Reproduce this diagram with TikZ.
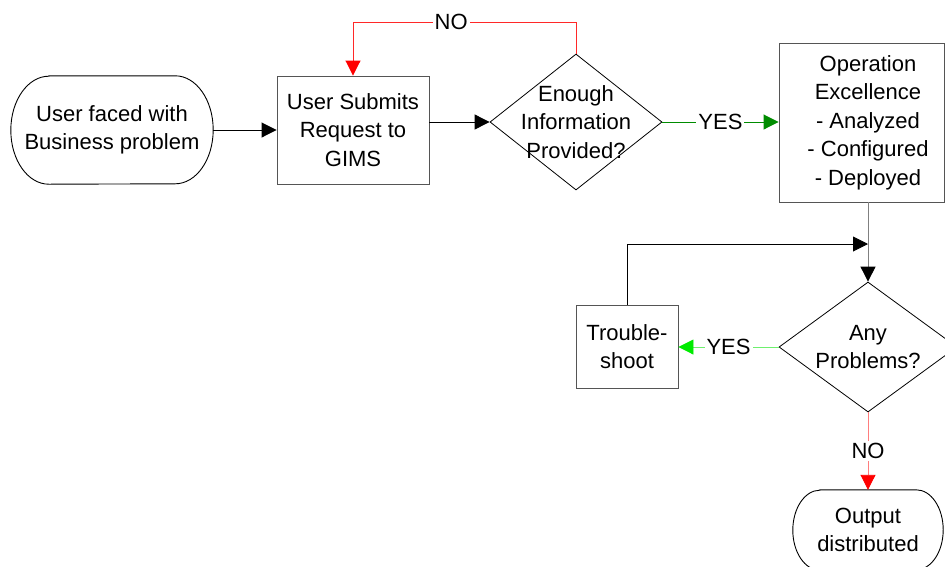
\documentclass[tikz,border=0pt]{standalone}
\usepackage{fontspec}
\setmainfont{Liberation Sans}
\usetikzlibrary{arrows.meta,shapes.geometric}
\definecolor{lred}{RGB}{255,40,40}
\definecolor{pinkred}{RGB}{255,125,125}
\definecolor{dgreen}{RGB}{0,140,0}
\definecolor{lgreen}{RGB}{0,235,0}
\definecolor{lgline}{RGB}{110,240,110}
\definecolor{edgegray}{RGB}{85,85,85}
\begin{document}
\begin{tikzpicture}[x=1pt,y=-1pt,
  txt/.style={font=\fontsize{22}{28.5}\selectfont, align=center, inner sep=0pt, text=black},
  box/.style={draw=edgegray, line width=0.9pt, rectangle, inner sep=0pt, txt},
  dec/.style={draw=black, line width=0.8pt, diamond, inner sep=0pt},
  term/.style={txt},
  outline/.style={line width=0.9pt, draw=black},
  tip/.style={-{Triangle[length=15pt,width=15pt,color=#1]}},
  arr/.style={line width=0.9pt, tip=black},
  lbl/.style={txt, fill=white, inner sep=2pt}]

\useasboundingbox (0,0) rectangle (945,566);
\clip (0,0) rectangle (945,566);

% start terminal
\node[term, minimum width=202pt, minimum height=108pt] (start) at (112,130) {User faced with\\Business problem};
\draw[outline] ([xshift=38pt]start.north west) -- ([xshift=-38pt]start.north east)
  arc[start angle=90,end angle=-90,x radius=38pt,y radius=54pt]
  -- ([xshift=38pt]start.south west)
  arc[start angle=270,end angle=90,x radius=38pt,y radius=54pt] -- cycle;

% submit box
\node[box, minimum width=152pt, minimum height=108pt] (submit) at (353,130) {User Submits\\Request to\\GIMS};

% decision 1
\node[dec, minimum width=172pt, minimum height=136pt] (enough) at (576,122) {};
\node[txt] (enoughtxt) at (enough.center) {Enough\\Information\\Provided?};

% operation box
\node[box, minimum width=165.5pt, minimum height=159pt] (ops) at (861.75,122.5) {};
\node[txt] (opstxt) at (868,122.5) {Operation\\Excellence\\- Analyzed\\- Configured\\- Deployed};

% decision 2
\node[dec, minimum width=178pt, minimum height=130pt] (anyp) at (868,347) {};
\node[txt] (anyptxt) at (anyp.center) {Any\\Problems?};

% troubleshoot
\node[box, minimum width=102pt, minimum height=83pt] (trouble) at (627,346.5) {Trouble-\\shoot};

% output terminal
\node[term, minimum width=150pt, minimum height=80pt] (output) at (868,530) {Output\\distributed};
\draw[outline] ([xshift=27pt]output.north west) -- ([xshift=-27pt]output.north east)
  arc[start angle=90,end angle=-90,x radius=27pt,y radius=40pt]
  -- ([xshift=27pt]output.south west)
  arc[start angle=270,end angle=90,x radius=27pt,y radius=40pt] -- cycle;

% connectors
\draw[arr] (start.east) -- (submit.west);
\draw[arr] (enough.west -| submit.east) -- (enough.west);
\coordinate (nol) at (353,22);
\draw[line width=0.9pt, lred, tip=red] (enough.north) |- node[lbl,pos=0.78]{NO} (nol) -- (submit.north);
\draw[line width=0.9pt, dgreen, tip=dgreen] (enough.east) -- node[lbl]{YES} (enough.east -| ops.west);
\draw[line width=0.9pt, draw=gray, tip=black] (anyp.north |- ops.south) -- (anyp.north);
\coordinate (join) at (868,244);
\draw[arr] (trouble.north) |- (join);
\draw[line width=0.9pt, lgline, tip=lgreen] (anyp.west) -- node[lbl]{YES} (anyp.west -| trouble.east);
\draw[line width=0.9pt, pinkred, tip=red] (anyp.south) -- node[lbl]{NO} (output.north);
\end{tikzpicture}
\end{document}
